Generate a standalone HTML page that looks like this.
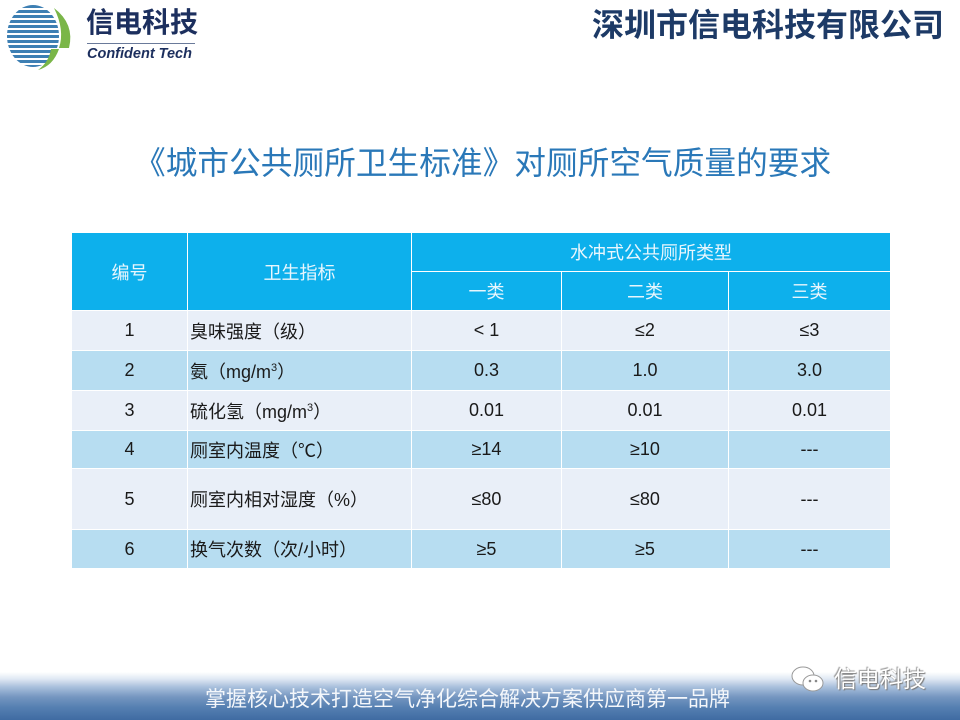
<!DOCTYPE html>
<html><head><meta charset="utf-8">
<style>
*{margin:0;padding:0;box-sizing:border-box}
body{width:960px;height:720px;overflow:hidden;background:#fff;position:relative;font-family:"Liberation Sans","Noto Sans CJK SC",sans-serif}
.abs{position:absolute}
#logo-cn{left:86px;top:6px;font-size:28px;font-weight:bold;color:#1c2f5e;letter-spacing:0px;white-space:nowrap;line-height:34px}
#logo-line{left:87px;top:43px;width:108px;height:1px;background:#6a7a9a}
#logo-en{left:87px;top:45px;font-size:14.5px;font-weight:bold;font-style:italic;color:#1c2f5e;white-space:nowrap;line-height:18px}
#company{left:592px;top:5px;font-size:32px;font-weight:bold;color:#1d3a66;white-space:nowrap;line-height:40px}
#title{left:134px;top:142px;font-size:31.7px;color:#2a78b8;white-space:nowrap;line-height:42px}
table{position:absolute;left:71px;top:232px;border-collapse:collapse;font-size:18px;color:#1a1a1a}
td{border:1px solid #fff;padding:0;text-align:center;vertical-align:middle}
.h td{background:#0db0ec;color:#e8f6fd;font-size:18px}
.l td{background:#e9eff8}
.b td{background:#b7ddf1}
td.left{text-align:left;padding-left:2px}
sup{font-size:11px;vertical-align:7px;line-height:0}
#footer{left:0;top:660px;width:960px;height:60px;background:linear-gradient(to bottom,#ffffff 0px,#ffffff 12px,#dfe8f3 19px,#a9c0dc 27px,#7596c0 37px,#5680b2 47px,#3f6ba2 60px)}
#slogan{left:205px;top:686px;font-size:21px;color:#f4f7fb;white-space:nowrap;line-height:28px}
#wm{left:834px;top:664px;font-size:23px;color:#fff;white-space:nowrap;line-height:30px;text-shadow:1px 1px 1px #777,-1px -1px 1px #999}
</style></head><body>
<svg class="abs" style="left:3px;top:2px" width="72" height="70" viewBox="0 0 72 70">
  <defs><clipPath id="c"><ellipse cx="30" cy="34" rx="26" ry="31"/></clipPath></defs>
  <g clip-path="url(#c)" fill="#3d7fb3">
    <rect x="0" y="3" width="60" height="3"/>
    <rect x="0" y="8" width="60" height="3"/>
    <rect x="0" y="13" width="60" height="3"/>
    <rect x="0" y="18" width="60" height="3"/>
    <rect x="0" y="23" width="60" height="3"/>
    <rect x="0" y="28" width="60" height="3"/>
    <rect x="0" y="33" width="60" height="3"/>
    <rect x="0" y="38" width="60" height="3"/>
    <rect x="0" y="43" width="60" height="3"/>
    <rect x="0" y="48" width="60" height="3"/>
    <rect x="0" y="53" width="60" height="3"/>
    <rect x="0" y="58" width="60" height="3"/>
    <rect x="0" y="63" width="60" height="3"/>
  </g>
  <path d="M51 6 Q72 22 66 46 L56 46 Q62 28 51 6Z" fill="#7ab648"/>
  <path d="M48 47 L56 47 Q50 64 35 68 Q46 60 48 47Z" fill="#7ab648"/>
</svg>
<div id="logo-cn" class="abs">信电科技</div>
<div id="logo-line" class="abs"></div>
<div id="logo-en" class="abs">Confident Tech</div>
<div id="company" class="abs">深圳市信电科技有限公司</div>
<div id="title" class="abs">《城市公共厕所卫生标准》对厕所空气质量的要求</div>
<table>
<colgroup><col style="width:116px"><col style="width:224px"><col style="width:150px"><col style="width:167px"><col style="width:162px"></colgroup>
<tr class="h" style="height:39px"><td rowspan="2">编号</td><td rowspan="2">卫生指标</td><td colspan="3">水冲式公共厕所类型</td></tr>
<tr class="h" style="height:39px"><td>一类</td><td>二类</td><td>三类</td></tr>
<tr class="l" style="height:40px"><td>1</td><td class="left">臭味强度（级）</td><td>&lt; 1</td><td>≤2</td><td>≤3</td></tr>
<tr class="b" style="height:40px"><td>2</td><td class="left">氨（mg/m<sup>3</sup>）</td><td>0.3</td><td>1.0</td><td>3.0</td></tr>
<tr class="l" style="height:40px"><td>3</td><td class="left">硫化氢（mg/m<sup>3</sup>）</td><td>0.01</td><td>0.01</td><td>0.01</td></tr>
<tr class="b" style="height:38px"><td>4</td><td class="left">厕室内温度（℃）</td><td>≥14</td><td>≥10</td><td>---</td></tr>
<tr class="l" style="height:61px"><td>5</td><td class="left">厕室内相对湿度（%）</td><td>≤80</td><td>≤80</td><td>---</td></tr>
<tr class="b" style="height:39px"><td>6</td><td class="left">换气次数（次/小时）</td><td>≥5</td><td>≥5</td><td>---</td></tr>
</table>
<div id="footer" class="abs"></div>
<div id="slogan" class="abs">掌握核心技术打造空气净化综合解决方案供应商第一品牌</div>
<svg class="abs" style="left:790px;top:664px" width="36" height="30" viewBox="0 0 36 30">
  <ellipse cx="13" cy="12" rx="11" ry="9" fill="#fff" stroke="#999" stroke-width="1"/>
  <ellipse cx="23" cy="19" rx="10" ry="8" fill="#fff" stroke="#999" stroke-width="1"/>
  <circle cx="20" cy="17" r="1.3" fill="#888"/><circle cx="26" cy="17" r="1.3" fill="#888"/>
</svg>
<div id="wm" class="abs">信电科技</div>
</body></html>
